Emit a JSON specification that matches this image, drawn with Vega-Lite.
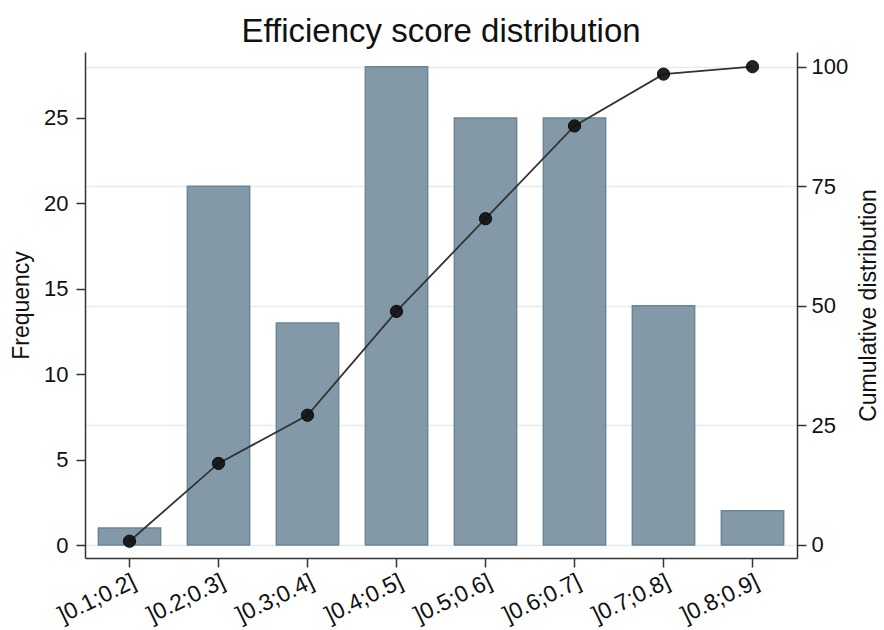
{
  "$schema": "https://vega.github.io/schema/vega-lite/v6.json",
  "width": 712,
  "height": 506,
  "autosize": {"type": "none"},
  "padding": {"left": 85, "top": 52, "right": 87, "bottom": 72},
  "background": "white",
  "config": {
    "view": {"stroke": null},
    "font": "Liberation Sans",
    "axis": {
      "labelFont": "Liberation Sans",
      "titleFont": "Liberation Sans",
      "labelFontSize": 22,
      "titleFontSize": 23,
      "titleFontWeight": "normal",
      "labelColor": "#111",
      "titleColor": "#111",
      "domainColor": "#333",
      "domainWidth": 1.5,
      "tickColor": "#333",
      "tickWidth": 1.5,
      "tickSize": 9
    }
  },
  "title": {
    "text": "Efficiency score distribution",
    "font": "Liberation Sans",
    "fontSize": 33,
    "fontWeight": "normal",
    "color": "#111",
    "anchor": "middle",
    "frame": "group",
    "offset": 3
  },
  "data": {
    "values": [
      {"bin": "]0.1;0.2]", "freq": 1, "cum": 0.78},
      {"bin": "]0.2;0.3]", "freq": 21, "cum": 17.05},
      {"bin": "]0.3;0.4]", "freq": 13, "cum": 27.13},
      {"bin": "]0.4;0.5]", "freq": 28, "cum": 48.84},
      {"bin": "]0.5;0.6]", "freq": 25, "cum": 68.22},
      {"bin": "]0.6;0.7]", "freq": 25, "cum": 87.6},
      {"bin": "]0.7;0.8]", "freq": 14, "cum": 98.45},
      {"bin": "]0.8;0.9]", "freq": 2, "cum": 100}
    ]
  },
  "encoding": {
    "x": {
      "field": "bin",
      "type": "ordinal",
      "sort": null,
      "scale": {"paddingInner": 0.3, "paddingOuter": 0.15},
      "axis": {
        "title": null,
        "labelAngle": -26,
        "labelFontSize": 23,
        "labelPadding": 3,
        "grid": false
      }
    }
  },
  "layer": [
    {
      "mark": {"type": "bar", "color": "#8499a8", "stroke": "#6a8596", "strokeWidth": 1.5},
      "encoding": {
        "y": {
          "field": "freq",
          "type": "quantitative",
          "scale": {"domain": [-0.761, 28.86], "nice": false, "zero": false},
          "axis": {
            "title": "Frequency",
            "orient": "left",
            "values": [0, 5, 10, 15, 20, 25],
            "grid": false,
            "labelPadding": 8,
            "titlePadding": 10
          }
        }
      }
    },
    {
      "mark": {
        "type": "line",
        "color": "#333333",
        "strokeWidth": 1.8,
        "point": {"filled": true, "color": "#111111", "opacity": 0.92, "size": 150, "stroke": "#000", "strokeWidth": 1}
      },
      "encoding": {
        "y": {
          "field": "cum",
          "type": "quantitative",
          "scale": {"domain": [-2.72, 103.07], "nice": false, "zero": false},
          "axis": {
            "title": "Cumulative distribution",
            "orient": "right",
            "values": [0, 25, 50, 75, 100],
            "grid": true,
            "gridColor": "#e3ecf0",
            "gridWidth": 1.5,
            "labelPadding": 5,
            "titlePadding": 33,
            "titleAngle": -90
          }
        }
      }
    }
  ],
  "resolve": {"scale": {"y": "independent"}}
}
